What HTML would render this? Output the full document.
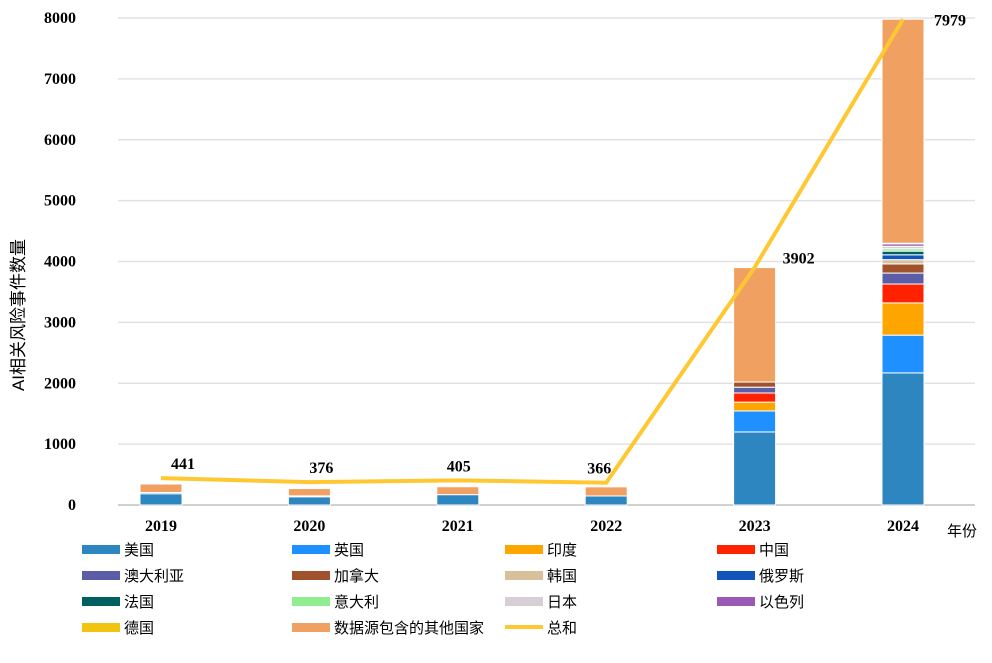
<!DOCTYPE html>
<html><head><meta charset="utf-8"><style>
body{margin:0;background:#fff;}
svg text{font-family:"Liberation Serif","Noto Serif CJK SC",serif;}
.cjk{font-family:"Liberation Sans","Noto Sans CJK SC",sans-serif;}
</style></head><body>
<svg id="chart" width="992" height="658" xmlns="http://www.w3.org/2000/svg"></svg>
<script>
const years=["2019","2020","2021","2022","2023","2024"];
const seriesNames=["美国","英国","印度","中国","澳大利亚","加拿大","韩国","俄罗斯","法国","意大利","日本","以色列","德国","数据源包含的其他国家"];
const seriesColors=["#2e86c1","#1e90ff","#ffa500","#ff2200","#5b5ea6","#a0522d","#d8c09a","#1155bb","#006060","#90ee90","#d8cfd6","#9b59b6","#f1c40f","#f0a060"];
const usVals=[185,135,170,148,1200,2170];
const ukVals=[20,0,0,0,345,620];
const indiaVals=[0,0,0,0,145,530];
const chinaVals=[0,0,0,0,150,310];
const ausVals=[0,0,0,0,95,180];
const canadaVals=[0,15,0,0,85,150];
const koreaVals=[0,0,0,0,0,70];
const russiaVals=[0,0,0,0,0,80];
const franceVals=[0,0,0,0,0,60];
const italyVals=[0,0,0,0,0,40];
const japanVals=[0,0,0,0,0,40];
const israelVals=[0,0,0,0,0,40];
const germanyVals=[0,0,0,0,0,10];
const otherVals=[140,120,130,150,1880,3680];
const totalVals=[441,376,405,366,3902,7979];
const yTicks=[0,1000,2000,3000,4000,5000,6000,7000,8000];

const allSeries=[usVals,ukVals,indiaVals,chinaVals,ausVals,canadaVals,koreaVals,russiaVals,franceVals,italyVals,japanVals,israelVals,germanyVals,otherVals];
const NS="http://www.w3.org/2000/svg";
const svg=document.getElementById('chart');
const X0=118,X1=975,Y0=505,Y1=18;
const yS=v=>Y0-(v/8000)*(Y0-Y1);
const step=148.4;
const xS=i=>161+step*i;
function mk(t,a){const e=document.createElementNS(NS,t);for(const k in a)e.setAttribute(k,a[k]);svg.appendChild(e);return e;}

yTicks.forEach(v=>{
  const g=mk('line',{x1:X0,x2:X1,y1:yS(v),y2:yS(v),stroke:v===0?'#d0d0d0':'#e2e2e2','stroke-width':v===0?2:1.5});
  
  
  const t=mk('text',{x:76,y:yS(v)+5,'text-anchor':'end','font-size':16,'font-weight':'bold'});
  t.textContent=v;
  
  
});
years.forEach((y,i)=>{
  let cum=0;
  allSeries.forEach((s,k)=>{
    const v=s[i];if(!v)return;
    const r=mk('rect',{x:xS(i)-21,width:42,y:yS(cum+v),height:yS(cum)-yS(cum+v),fill:seriesColors[k],stroke:'#fff','stroke-width':1});
    
    
    cum+=v;
  });
  const t=mk('text',{x:xS(i),y:531,'text-anchor':'middle','font-size':16,'font-weight':'bold'});
  t.textContent=y;
  
  
});
const pl=mk('polyline',{points:totalVals.map((v,i)=>xS(i)+','+yS(v)).join(' '),fill:'none',stroke:'#ffc832','stroke-width':4});


const lblDx=[22,12,1,-7,44,47],lblDy=[-9,-9,-9,-9,-4,6];
totalVals.forEach((v,i)=>{
  const t=mk('text',{x:xS(i)+lblDx[i],y:yS(v)+lblDy[i],'text-anchor':'middle','font-size':16,'font-weight':'bold'});
  t.textContent=v;
  
  
});
const yt=mk('text',{x:0,y:0,transform:'translate(24,315) rotate(-90)','text-anchor':'middle','font-size':17,'class':'cjk'});
yt.textContent='AI相关风险事件数量';


const xt=mk('text',{x:947,y:536,'font-size':15,'class':'cjk'});
xt.textContent='年份';


const legNames=seriesNames.concat(["总和"]);
const colX=[82,292,505,717],rowY=[549,575,601,627];
legNames.forEach((n,k)=>{
  const x=colX[k%4],y=rowY[Math.floor(k/4)];
  const g=document.createElementNS(NS,'g');svg.appendChild(g);
  
  
  let sw;
  if(k<14){sw=document.createElementNS(NS,'rect');sw.setAttribute('x',x);sw.setAttribute('y',y-4);sw.setAttribute('width',38);sw.setAttribute('height',9);sw.setAttribute('fill',seriesColors[k]);}
  else{sw=document.createElementNS(NS,'line');sw.setAttribute('x1',x);sw.setAttribute('x2',x+38);sw.setAttribute('y1',y);sw.setAttribute('y2',y);sw.setAttribute('stroke','#ffc832');sw.setAttribute('stroke-width',4);}
  g.appendChild(sw);
  const t=document.createElementNS(NS,'text');
  t.setAttribute('x',x+42);t.setAttribute('y',y+6);t.setAttribute('font-size',15);t.setAttribute('class','cjk');
  t.textContent=n;g.appendChild(t);
});
</script>
</body></html>
